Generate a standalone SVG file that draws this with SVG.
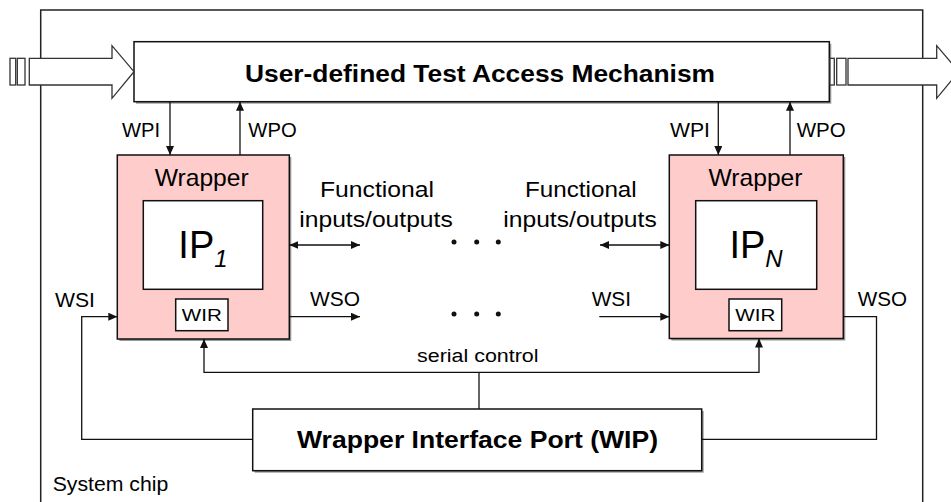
<svg xmlns="http://www.w3.org/2000/svg" width="951" height="502" viewBox="0 0 951 502">
<defs>
<style>
.t{font-family:"Liberation Sans",Arial,sans-serif;fill:#000}
.lbl{font-size:20px}
.big{font-size:23px;font-weight:bold}
.box{fill:#fff;stroke:#111;stroke-width:1.5}
.wrap{fill:#ffcccc;stroke:#111;stroke-width:1.5}
.sh{fill:#9a9a9a;stroke:none}
.ln{fill:none;stroke:#111;stroke-width:1.3}
.harrow{fill:#fff;stroke:#333;stroke-width:1.3}
</style>
<marker id="ah" markerUnits="userSpaceOnUse" markerWidth="10" markerHeight="8" refX="9" refY="4" orient="auto-start-reverse">
<path d="M0,0 L9,4 L0,8 z" fill="#111"/>
</marker>
</defs>
<rect width="951" height="502" fill="#fff"/>
<g id="chip">
<rect x="40.7" y="10" width="882" height="520" fill="none" stroke="#222" stroke-width="1.5"/>
<text class="t lbl" x="52.7" y="490.7" textLength="115.6" lengthAdjust="spacingAndGlyphs">System chip</text>
</g>
<g id="tam">
<rect class="sh" x="136" y="43.7" width="695.3" height="60"/>
<rect class="box" x="134" y="41.7" width="695.3" height="60"/>
<text class="t big" x="245" y="81.7" textLength="470" lengthAdjust="spacingAndGlyphs">User-defined Test Access Mechanism</text>
</g>
<g id="input-arrow">
<rect class="harrow" x="10" y="58.3" width="5.7" height="26.7"/>
<rect class="harrow" x="17.3" y="58.3" width="7.7" height="26.7"/>
<path class="harrow" d="M29.3,58.3 H112 V45.7 L134,71.7 L112,98.3 V85 H29.3 Z"/>
</g>
<g id="output-arrow">
<rect class="harrow" x="830" y="58.3" width="4.3" height="26.7"/>
<rect class="harrow" x="836.7" y="58.3" width="9.3" height="26.7"/>
<path class="harrow" d="M848,58.3 H936.7 V45.7 L958.7,71.7 L936.7,98.3 V85 H848 Z"/>
</g>
<g id="wrapper1">
<rect class="sh" x="119.3" y="157" width="172" height="184"/>
<rect class="wrap" x="117.3" y="155" width="172" height="184"/>
<text class="t" x="201.7" y="186" font-size="24" text-anchor="middle" textLength="94" lengthAdjust="spacingAndGlyphs">Wrapper</text>
<rect class="box" x="143.3" y="200.7" width="119.4" height="88.6"/>
<text class="t" x="203" y="258.3" font-size="38" text-anchor="middle">IP<tspan font-size="24" font-style="italic" dy="9">1</tspan></text>
<rect class="box" x="175.7" y="299" width="52.3" height="31.7"/>
<text class="t" x="201.8" y="320.7" font-size="17" text-anchor="middle" textLength="40" lengthAdjust="spacingAndGlyphs">WIR</text>
</g>
<g id="wrapperN">
<rect class="sh" x="671.3" y="157" width="174" height="183.5"/>
<rect class="wrap" x="669.3" y="155" width="174" height="183.5"/>
<text class="t" x="755.5" y="186" font-size="24" text-anchor="middle" textLength="94" lengthAdjust="spacingAndGlyphs">Wrapper</text>
<rect class="box" x="695.7" y="200.7" width="121" height="88.6"/>
<text class="t" x="756" y="258.3" font-size="38" text-anchor="middle">IP<tspan font-size="24" font-style="italic" dy="9">N</tspan></text>
<rect class="box" x="729" y="299" width="52.7" height="31.7"/>
<text class="t" x="755.3" y="320.7" font-size="17" text-anchor="middle" textLength="40" lengthAdjust="spacingAndGlyphs">WIR</text>
</g>
<g id="wip">
<rect class="sh" x="254.7" y="411" width="449" height="61.7"/>
<rect class="box" x="252.7" y="409" width="449" height="61.7"/>
<text class="t big" x="297" y="448.3" textLength="361" lengthAdjust="spacingAndGlyphs">Wrapper Interface Port (WIP)</text>
</g>
<g id="connectors">
<path class="ln" d="M170,101.7 V155" marker-end="url(#ah)"/>
<path class="ln" d="M240,155 V101.7" marker-end="url(#ah)"/>
<path class="ln" d="M718.3,101.7 V155" marker-end="url(#ah)"/>
<path class="ln" d="M790,155 V101.7" marker-end="url(#ah)"/>
<path class="ln" d="M289.3,245 H360" marker-start="url(#ah)" marker-end="url(#ah)"/>
<path class="ln" d="M600,245 H669.3" marker-start="url(#ah)" marker-end="url(#ah)"/>
<path class="ln" d="M289.3,316.7 H360" marker-end="url(#ah)"/>
<path class="ln" d="M599.3,316.7 H669.3" marker-end="url(#ah)"/>
<path class="ln" d="M252.7,439.3 H81.7 V316.7 H117.3" marker-end="url(#ah)"/>
<path class="ln" d="M843.3,316.7 H876.5 V439.3 H701.7"/>
<path class="ln" d="M479,409 V372.3"/>
<path class="ln" d="M479,372.3 H204 V339" marker-end="url(#ah)"/>
<path class="ln" d="M479,372.3 H759 V338.5" marker-end="url(#ah)"/>
<g fill="#111">
<circle cx="454" cy="242" r="2.5"/><circle cx="476.7" cy="242" r="2.5"/><circle cx="498.3" cy="242" r="2.5"/>
<circle cx="454" cy="314" r="2.5"/><circle cx="476.7" cy="314" r="2.5"/><circle cx="498.3" cy="314" r="2.5"/>
</g>
</g>
<g id="labels">
<text class="t lbl" x="122" y="136.7" textLength="38" lengthAdjust="spacingAndGlyphs">WPI</text>
<text class="t lbl" x="248.3" y="136.7" textLength="48.4" lengthAdjust="spacingAndGlyphs">WPO</text>
<text class="t lbl" x="670" y="136.7" textLength="40" lengthAdjust="spacingAndGlyphs">WPI</text>
<text class="t lbl" x="796.7" y="136.7" textLength="49" lengthAdjust="spacingAndGlyphs">WPO</text>
<text class="t" x="320" y="197.3" font-size="22" textLength="114" lengthAdjust="spacingAndGlyphs">Functional</text>
<text class="t" x="299.3" y="227.3" font-size="22" textLength="153.4" lengthAdjust="spacingAndGlyphs">inputs/outputs</text>
<text class="t" x="525" y="197.3" font-size="22" textLength="111.7" lengthAdjust="spacingAndGlyphs">Functional</text>
<text class="t" x="503.3" y="227.3" font-size="22" textLength="153.4" lengthAdjust="spacingAndGlyphs">inputs/outputs</text>
<text class="t lbl" x="55" y="306.7" textLength="40" lengthAdjust="spacingAndGlyphs">WSI</text>
<text class="t lbl" x="310" y="306.3" textLength="50" lengthAdjust="spacingAndGlyphs">WSO</text>
<text class="t lbl" x="591.7" y="306.3" textLength="39.3" lengthAdjust="spacingAndGlyphs">WSI</text>
<text class="t lbl" x="857.7" y="306.3" textLength="49.3" lengthAdjust="spacingAndGlyphs">WSO</text>
<text class="t" x="417" y="362" font-size="18" textLength="121.5" lengthAdjust="spacingAndGlyphs">serial control</text>
</g>
</svg>
